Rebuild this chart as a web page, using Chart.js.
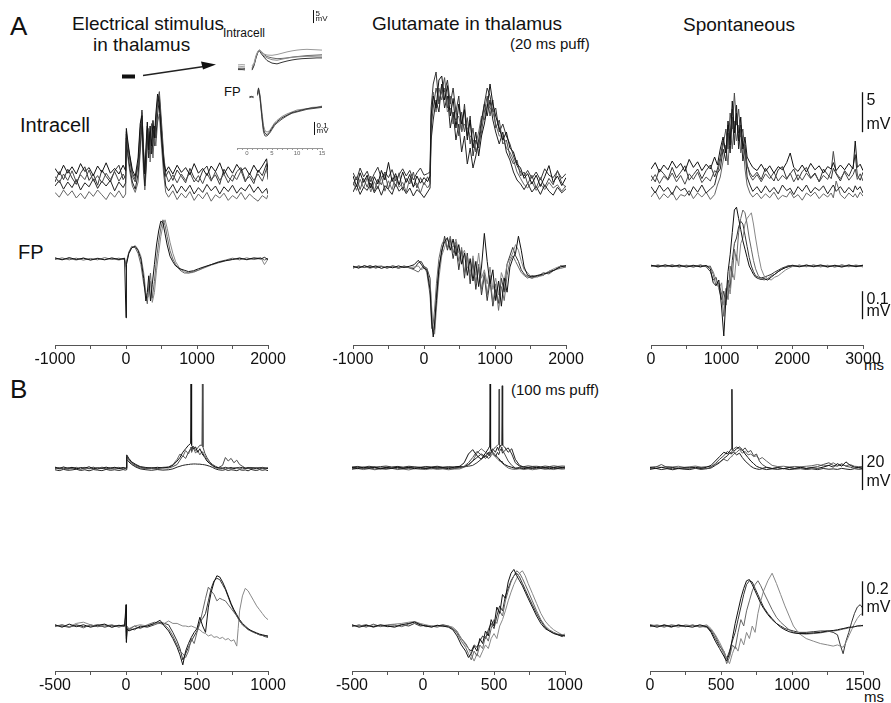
<!DOCTYPE html>
<html><head><meta charset="utf-8">
<script src="https://cdn.jsdelivr.net/npm/chart.js@4.4.1/dist/chart.umd.min.js"></script>
<style>
html,body{margin:0;padding:0;background:#fff;}
#fig{position:relative;width:891px;height:703px;overflow:hidden;background:#fff;font-family:"Liberation Sans",Arial,Helvetica,sans-serif;color:#111;}
#fig canvas{position:absolute;}
.t{position:absolute;white-space:nowrap;line-height:1;}
</style></head><body>
<div id="fig">
  <div class="t" style="left:10px;top:13px;font-size:26px;">A</div>
  <div class="t" style="left:72px;top:14px;font-size:19px;">Electrical stimulus</div>
  <div class="t" style="left:93px;top:35px;font-size:19px;">in thalamus</div>
  <div class="t" style="left:372px;top:14px;font-size:19px;">Glutamate in thalamus</div>
  <div class="t" style="left:510px;top:36px;font-size:15px;">(20 ms puff)</div>
  <div class="t" style="left:683px;top:15px;font-size:19px;">Spontaneous</div>
  <div class="t" style="left:20px;top:115px;font-size:20px;">Intracell</div>
  <div class="t" style="left:18px;top:242px;font-size:20px;">FP</div>
  <div class="t" style="left:10px;top:376px;font-size:26px;">B</div>
  <div class="t" style="left:511px;top:382px;font-size:15px;">(100 ms puff)</div>
  <div class="t" style="left:864px;top:357px;font-size:15px;">ms</div>
  <div class="t" style="left:864px;top:689px;font-size:15px;">ms</div>
  <div class="t" style="left:223px;top:27px;font-size:12px;">Intracell</div>
  <div class="t" style="left:224px;top:85px;font-size:13px;">FP</div>
  <svg style="position:absolute;left:0;top:0;" width="891" height="160">
    <rect x="122" y="74.5" width="13" height="4" fill="#111"/>
    <line x1="143" y1="75.5" x2="204" y2="66.5" stroke="#222" stroke-width="1.6"/>
    <polygon points="216,64.5 201,61.5 203,69.5" fill="#111"/>
  </svg>
  <canvas id="cInset"></canvas>
  <canvas id="cA1"></canvas><canvas id="cA2"></canvas><canvas id="cA3"></canvas>
  <canvas id="cB1"></canvas><canvas id="cB2"></canvas><canvas id="cB3"></canvas>
</div>
<script>
// ================= DATA (time in ms, potentials in mV) =================
// ---- Tick labels / axis ranges ----
const ticksA12 = [-1000, 0, 1000, 2000];
const ticksA3 = [0, 1000, 2000, 3000];
const ticksB12 = [-500, 0, 500, 1000];
const ticksB3 = [0, 500, 1000, 1500];
const ticksInset = [0, 5, 10, 15];
const rangeInset = [-2, 15];

// ---- A, column 1: electrical stimulus in thalamus ----
const tA1 = [-1000,-940,-880,-820,-760,-700,-640,-580,-520,-460,-400,-340,-280,-220,-160,-100,-40,-5,5,20,50,90,130,170,200,225,245,265,285,300,320,340,360,380,400,420,445,470,500,530,560,600,660,720,780,840,900,960,1020,1080,1140,1200,1260,1320,1380,1440,1500,1560,1620,1680,1740,1800,1860,1920,1980,2000];
const A1_in1 = [1.2,0.4,1.6,0.6,1.4,0.5,1.8,0.8,1.3,0.3,1.5,0.7,1.9,0.6,1.2,0.5,1.6,0.9,6.2,5.0,3.0,1.0,0.2,2.5,6.8,7.8,3.0,0.5,4.5,7.0,3.5,6.5,4.0,7.2,5.0,8.0,10.5,9.0,5.0,2.0,0.8,1.4,0.5,1.6,0.7,1.3,0.4,1.8,0.6,1.2,0.3,1.5,0.8,1.9,0.5,1.4,0.6,1.7,0.9,1.3,0.4,1.6,0.7,1.5,2.4,1.0];
const A1_in2 = [0.2,-0.6,0.5,-0.3,0.9,-0.5,0.4,-0.2,1.0,-0.4,0.3,-0.6,0.6,-0.2,0.8,-0.4,0.5,-0.1,5.5,4.2,2.4,0.2,-0.5,1.5,5.0,8.2,4.0,1.0,3.0,6.0,5.0,3.0,6.8,5.2,4.0,6.5,9.5,10.8,7.0,3.0,0.5,-0.5,0.4,-0.6,0.5,-0.3,0.7,-0.5,0.3,-0.7,0.6,-0.4,0.8,-0.3,0.5,-0.6,0.4,-0.2,0.9,-0.5,0.6,-0.3,0.5,-0.4,1.2,0.1];
const A1_in3 = [-1.0,-0.3,-1.4,-0.5,-1.2,-0.2,-1.5,-0.6,-1.1,-0.1,-1.3,-0.4,-1.0,-0.3,-1.6,-0.5,-1.2,-0.6,5.0,3.5,1.5,-0.5,-1.4,0.5,4.0,7.0,2.0,-1.0,2.0,5.5,2.5,5.8,3.0,4.5,6.5,5.0,8.0,9.8,6.0,1.5,-1.0,-1.6,-0.8,-1.9,-1.0,-1.7,-0.9,-2.0,-1.2,-1.8,-0.8,-1.6,-1.0,-2.0,-1.1,-1.7,-0.9,-1.9,-1.2,-1.6,-0.8,-1.8,-1.1,-1.9,-1.3,-2.0];
const A1_in4 = [-1.8,-2.4,-1.5,-2.2,-1.6,-2.5,-1.9,-2.6,-1.7,-2.3,-1.5,-2.1,-2.7,-1.8,-2.4,-1.6,-2.5,-2.0,4.5,3.0,1.0,-1.0,-1.8,-0.5,3.0,6.5,1.0,-1.5,1.0,4.0,6.2,2.0,4.8,2.5,5.5,4.0,7.0,8.0,4.0,0.5,-1.8,-2.4,-1.6,-2.7,-1.9,-2.5,-1.7,-2.8,-2.0,-2.6,-1.8,-2.9,-2.1,-2.5,-1.9,-2.8,-2.2,-2.6,-1.8,-2.7,-2.0,-2.5,-2.9,-2.2,-2.6,-2.1];
const A1_in5 = [-0.5,0.8,-0.2,1.1,0.0,-0.8,0.6,1.4,-0.3,0.5,-0.9,1.0,0.2,-0.5,0.9,1.6,-0.2,0.3,5.8,4.5,2.8,0.6,-0.2,1.8,6.0,8.5,3.5,0.8,3.8,6.5,4.2,5.5,3.5,6.0,4.8,7.0,9.8,10.2,6.0,2.5,0.2,0.9,-0.3,1.0,0.2,-0.6,1.2,0.0,-0.5,0.9,1.5,-0.2,0.4,-0.8,1.1,0.1,-0.4,0.8,1.3,-0.3,0.2,-0.7,1.0,0.3,1.8,-0.2];
const tA1fp = [-1000,-900,-800,-700,-600,-500,-400,-300,-200,-100,-20,0,2,10,40,80,130,170,210,250,280,300,320,345,370,400,430,460,490,520,550,580,620,660,700,760,820,880,950,1020,1100,1200,1300,1400,1500,1600,1700,1800,1900,1950,2000];
const A1_fp1 = [0.004,-0.003,0.005,-0.002,0.003,-0.004,0.002,-0.003,0.004,-0.002,0.003,-0.21,-0.05,-0.02,0.02,0.04,0.045,0.03,0.0,-0.07,-0.15,-0.12,-0.06,-0.15,-0.09,-0.02,0.05,0.10,0.135,0.13,0.09,0.05,0.01,-0.01,-0.025,-0.035,-0.04,-0.045,-0.042,-0.035,-0.028,-0.02,-0.012,-0.006,-0.002,0.003,-0.002,0.004,0.0,0.006,-0.002];
const A1_fp2 = [-0.002,0.004,-0.003,0.003,-0.004,0.002,-0.003,0.005,-0.002,0.003,-0.003,-0.02,-0.03,-0.01,0.025,0.045,0.04,0.02,-0.02,-0.09,-0.13,-0.16,-0.10,-0.05,-0.14,-0.08,0.0,0.06,0.11,0.14,0.12,0.08,0.03,0.0,-0.02,-0.04,-0.05,-0.05,-0.045,-0.04,-0.03,-0.02,-0.01,-0.004,0.003,-0.003,0.004,-0.002,0.003,-0.004,0.002];
const A1_fp3 = [0.003,-0.002,0.002,-0.004,0.004,-0.003,0.003,-0.002,0.002,-0.004,0.002,-0.03,-0.04,-0.015,0.02,0.04,0.048,0.035,0.01,-0.05,-0.12,-0.14,-0.13,-0.08,-0.155,-0.12,-0.04,0.02,0.08,0.12,0.14,0.11,0.06,0.02,-0.01,-0.035,-0.045,-0.05,-0.048,-0.04,-0.032,-0.022,-0.014,-0.007,-0.001,0.004,-0.003,0.002,0.005,-0.02,0.0];

// ---- A, column 2: glutamate in thalamus (20 ms puff) ----
const tA2 = [-1000,-950,-900,-850,-800,-750,-700,-650,-600,-550,-500,-450,-400,-350,-300,-250,-200,-150,-100,-50,0,50,85,100,130,170,210,250,290,330,370,410,450,490,530,570,610,650,690,730,770,810,850,890,930,970,1010,1060,1110,1160,1210,1260,1310,1360,1410,1460,1520,1580,1640,1700,1760,1820,1880,1940,2000];
const A2_in1 = [0.5,-0.8,0.9,-0.3,0.6,-1.0,0.4,-0.5,1.2,0.0,2.2,-0.2,0.8,-0.6,1.0,-0.3,0.7,-0.9,0.5,-0.4,0.3,-0.2,0.5,8.0,10.5,9.0,12.5,13.0,10.0,11.8,8.0,10.2,6.5,9.5,7.0,8.8,5.0,7.5,4.0,6.0,3.0,5.5,7.0,9.0,12.0,9.5,8.0,6.5,5.0,6.0,4.0,3.5,2.0,1.5,0.2,0.8,-0.5,0.6,-0.8,0.4,1.8,-0.3,0.5,-0.7,0.3];
const A2_in2 = [-0.7,0.4,-1.2,0.2,-0.9,0.5,-1.4,0.1,-0.6,0.8,-1.1,0.3,-0.8,0.9,-1.3,0.2,-0.5,1.0,-1.0,0.3,-0.6,0.4,-0.3,6.5,9.0,11.5,10.0,11.0,12.8,9.0,10.5,7.0,9.0,5.5,8.5,6.0,7.8,4.5,6.5,3.5,4.5,6.0,8.5,10.5,8.0,10.0,6.5,7.5,4.5,5.0,3.0,2.0,2.5,0.5,1.0,-0.5,0.6,-1.0,0.3,-0.9,0.2,-0.6,1.2,-0.4,-0.9];
const A2_in3 = [-1.5,-0.6,-1.8,-0.9,-1.3,-0.4,-1.6,-0.8,-1.9,-0.7,-1.2,-1.8,-0.5,-1.4,-0.9,-1.7,-1.0,-2.0,-1.2,-1.6,-2.2,-1.5,-1.0,5.0,7.5,10.0,8.5,12.0,9.0,10.5,6.5,8.5,5.0,7.0,3.5,5.5,2.0,4.0,1.5,3.0,5.0,7.5,9.5,8.0,10.0,7.5,6.0,4.5,6.0,3.5,2.5,1.0,0.0,-0.5,-1.2,-0.4,-1.5,-0.8,-1.8,-0.6,-1.4,-1.9,-0.9,-1.6,-1.1];
const A2_in4 = [-0.2,-1.3,0.1,-1.0,0.3,-1.5,-0.2,-1.1,0.4,-1.4,-0.1,-1.2,0.5,-0.9,-0.3,-1.5,0.2,-0.8,-0.4,-1.6,-0.3,-1.0,-0.5,7.0,11.0,8.5,11.5,10.0,11.5,8.5,9.0,8.0,7.5,8.0,6.0,7.0,6.5,5.5,5.0,4.5,6.0,8.0,7.5,9.5,9.0,8.5,7.0,5.5,5.5,4.0,3.5,2.5,1.0,0.2,-0.6,-1.0,-0.2,-1.3,-0.5,-1.2,-0.3,-1.0,-0.6,-1.4,-0.7];
const A2_in5 = [0.9,0.0,1.5,0.4,1.1,-0.2,0.8,1.6,0.2,1.0,0.3,1.3,-0.1,0.7,1.4,0.5,1.2,0.0,0.9,1.5,0.6,0.8,1.0,9.0,12.0,13.5,9.5,12.0,11.0,12.5,9.5,11.5,8.5,10.5,6.0,9.5,5.5,8.0,3.0,5.0,4.0,7.0,9.5,11.5,10.5,8.5,9.0,6.0,7.0,5.5,4.5,3.0,1.8,1.0,0.5,1.2,0.2,1.0,0.0,1.4,0.6,0.3,1.1,0.2,0.8];
const tA2fp = [-1000,-920,-840,-760,-680,-600,-520,-440,-360,-280,-200,-140,-80,-40,0,40,85,110,130,150,175,210,250,290,330,370,410,450,490,530,570,610,650,690,730,770,810,850,890,930,970,1010,1050,1090,1130,1170,1210,1250,1290,1330,1370,1410,1460,1520,1600,1680,1760,1840,1920,2000];
const A2_fp1 = [0.003,-0.004,0.005,-0.002,0.004,-0.005,0.002,-0.003,0.004,-0.002,0.003,0.008,0.024,0.01,-0.005,-0.01,-0.08,-0.2,-0.25,-0.2,-0.12,-0.01,0.06,0.09,0.105,0.06,0.1,0.04,0.08,0.01,0.05,-0.03,0.03,-0.05,0.02,-0.07,0.0,0.12,0.02,-0.06,-0.01,-0.12,-0.05,-0.14,-0.04,-0.09,0.0,0.03,0.05,0.11,0.06,0.0,-0.03,-0.035,-0.03,-0.025,-0.02,-0.01,0.0,0.005];
const A2_fp2 = [-0.003,0.004,-0.002,0.003,-0.004,0.002,-0.003,0.005,-0.002,0.003,-0.004,-0.01,-0.018,-0.005,0.004,-0.02,-0.1,-0.22,-0.2,-0.15,-0.06,0.03,0.08,0.1,0.07,0.11,0.05,0.09,0.02,0.07,-0.02,0.04,-0.04,0.03,-0.06,0.01,-0.08,-0.02,-0.1,-0.03,-0.13,-0.06,-0.155,-0.07,-0.12,-0.03,0.02,0.04,0.02,0.0,-0.02,-0.03,-0.04,-0.03,-0.035,-0.02,-0.025,-0.01,-0.005,0.0];
const A2_fp3 = [0.001,-0.003,0.003,-0.005,0.002,0.004,-0.004,0.002,-0.003,0.004,-0.002,0.0,0.004,-0.01,-0.004,-0.005,-0.06,-0.15,-0.22,-0.24,-0.15,-0.04,0.04,0.07,0.1,0.08,0.07,0.1,0.05,0.04,0.06,0.0,-0.02,0.04,-0.03,0.05,-0.04,-0.01,-0.06,0.0,-0.08,-0.04,-0.1,-0.02,-0.05,0.01,0.03,0.05,0.08,0.06,0.02,-0.01,-0.02,-0.04,-0.035,-0.03,-0.015,-0.005,0.003,0.002];
const A2_fp4 = [-0.004,0.003,-0.002,0.005,-0.003,0.002,-0.004,0.003,-0.005,0.002,-0.003,-0.006,0.015,0.02,0.002,-0.004,-0.04,-0.18,-0.23,-0.22,-0.1,0.0,0.05,0.11,0.06,0.1,0.03,0.08,-0.01,0.06,-0.04,0.05,-0.06,0.02,-0.08,0.0,-0.1,-0.03,-0.12,-0.05,-0.14,-0.08,-0.13,-0.04,-0.09,0.01,0.04,0.07,0.04,0.02,-0.01,-0.025,-0.035,-0.04,-0.03,-0.03,-0.015,-0.012,0.004,0.003];

// ---- A, column 3: spontaneous ----
const tA3 = [0,60,120,180,240,300,360,420,480,540,600,660,720,780,840,900,940,980,1020,1060,1090,1120,1150,1180,1210,1240,1270,1300,1330,1360,1400,1440,1500,1560,1620,1680,1740,1800,1860,1920,1970,2020,2080,2140,2200,2260,2320,2380,2440,2500,2550,2580,2620,2680,2740,2800,2860,2890,2920,2960,3000];
const A3_in1 = [1.0,1.8,0.6,1.5,0.9,2.0,1.1,1.7,0.7,2.2,1.2,1.9,0.8,1.6,1.0,2.5,1.5,3.5,5.0,3.0,7.0,4.0,9.5,5.5,8.0,4.5,7.5,3.5,5.0,2.5,1.8,1.2,0.8,1.6,0.7,1.4,0.5,1.3,0.9,1.8,3.0,1.2,0.7,1.5,0.6,1.7,0.9,1.4,0.5,1.3,1.0,1.8,0.8,1.5,0.9,1.7,1.0,4.5,1.2,1.6,0.8];
const A3_in2 = [-0.5,0.3,-0.8,0.1,-0.4,0.5,-0.6,0.2,-0.9,0.4,-0.3,0.6,-0.7,0.0,-0.5,0.8,0.5,2.0,4.0,6.0,3.5,8.0,6.0,10.5,6.5,8.5,5.0,6.0,3.0,1.5,0.2,-0.4,0.3,-0.6,0.4,-0.2,0.6,-0.5,0.2,-0.3,0.5,-0.6,0.3,-0.4,0.5,-0.2,0.4,-0.6,0.2,-0.3,0.8,3.2,0.5,-0.2,0.6,-0.4,0.3,1.0,-0.3,0.4,-0.5];
const A3_in3 = [-1.2,-2.0,-1.0,-1.8,-1.3,-2.2,-1.1,-1.7,-1.4,-2.3,-1.2,-1.9,-1.0,-2.0,-1.5,-1.0,0.5,1.0,3.5,2.0,5.5,3.0,7.5,4.0,9.0,3.5,6.0,2.0,3.5,0.0,-1.0,-1.8,-1.2,-2.0,-1.1,-1.9,-1.3,-2.1,-1.0,-1.7,-1.4,-2.2,-1.2,-1.8,-1.0,-2.0,-1.3,-1.7,-1.1,-2.1,-1.4,-1.0,-1.8,-1.2,-2.0,-1.3,-1.9,-1.1,-1.6,-1.2,-2.0];
const A3_in4 = [-2.5,-1.8,-2.8,-2.1,-2.6,-1.9,-2.9,-2.2,-2.4,-1.7,-2.7,-2.0,-2.5,-1.9,-2.8,-2.2,-1.0,0.0,2.0,4.0,1.5,6.0,3.5,7.0,4.5,6.5,3.0,4.5,1.0,-1.0,-2.0,-2.5,-2.0,-2.7,-2.1,-2.6,-1.9,-2.8,-2.3,-2.5,-1.8,-2.6,-2.2,-2.9,-2.0,-2.4,-1.9,-2.7,-2.1,-2.5,-2.0,-2.6,-0.5,-2.2,-2.7,-2.0,-2.5,-2.1,-2.6,-1.9,-2.4];
const A3_in5 = [0.2,-0.6,1.0,0.4,-0.3,1.2,-0.1,0.6,1.4,-0.4,0.3,1.0,-0.2,0.8,1.5,0.0,1.0,2.5,4.5,3.0,6.5,5.0,8.5,6.0,7.0,5.5,6.5,4.0,4.0,1.5,0.5,0.0,0.6,-0.3,1.1,0.2,-0.5,0.9,1.3,-0.2,0.4,1.0,-0.4,0.7,1.2,-0.1,0.5,-0.6,1.0,0.3,-0.2,1.1,0.4,-0.5,0.8,0.1,1.3,2.8,0.2,-0.4,0.6];
const tA3fp = [0,100,200,300,400,500,600,700,780,840,880,920,960,1000,1030,1060,1090,1120,1150,1180,1210,1240,1270,1300,1330,1360,1390,1420,1450,1480,1520,1560,1600,1650,1700,1750,1800,1850,1900,1950,2000,2100,2200,2300,2400,2500,2600,2700,2800,2900,3000];
const A3_fp1 = [0.003,-0.003,0.004,-0.002,0.003,-0.004,0.002,-0.003,0.002,-0.01,-0.06,-0.07,-0.05,-0.15,-0.25,-0.12,-0.02,0.04,0.12,0.2,0.21,0.17,0.13,0.09,0.06,0.03,0.0,-0.015,-0.03,-0.04,-0.045,-0.048,-0.045,-0.05,-0.04,-0.03,-0.02,-0.012,-0.006,-0.002,0.002,-0.003,0.003,-0.002,0.004,-0.003,0.002,-0.004,0.003,-0.002,0.003];
const A3_fp2 = [-0.002,0.004,-0.003,0.002,-0.004,0.003,-0.002,0.004,-0.003,0.0,-0.03,-0.07,-0.06,-0.1,-0.18,-0.08,-0.12,0.0,-0.04,0.06,0.02,0.12,0.17,0.2,0.19,0.15,0.1,0.06,0.02,-0.01,-0.035,-0.045,-0.05,-0.045,-0.035,-0.03,-0.02,-0.012,-0.006,-0.001,0.003,-0.002,0.004,-0.003,0.002,-0.004,0.003,-0.002,0.004,-0.003,0.002];
const A3_fp3 = [0.002,-0.004,0.003,-0.003,0.004,-0.002,0.003,-0.004,0.002,-0.004,-0.02,-0.05,-0.08,-0.06,-0.14,-0.1,-0.06,-0.1,-0.02,-0.05,0.04,0.0,0.08,0.1,0.15,0.17,0.18,0.19,0.15,0.1,0.04,-0.01,-0.035,-0.045,-0.05,-0.04,-0.035,-0.025,-0.015,-0.008,-0.002,0.003,-0.003,0.004,-0.002,0.003,-0.004,0.002,-0.003,0.004,-0.002];
const A3_fp4 = [0.0,0.002,-0.002,0.004,-0.003,0.002,-0.004,0.003,-0.002,-0.02,-0.05,-0.04,-0.08,-0.12,-0.09,-0.14,-0.05,-0.08,0.02,0.08,0.1,0.14,0.16,0.15,0.11,0.07,0.03,0.0,-0.02,-0.035,-0.04,-0.042,-0.04,-0.035,-0.03,-0.022,-0.015,-0.008,-0.003,0.002,-0.002,0.003,-0.002,0.003,-0.003,0.002,-0.003,0.004,-0.002,0.002,-0.003];

// ---- B, column 1: electrical stimulus ----
const tB1 = [-500,-470,-440,-410,-380,-350,-320,-290,-260,-230,-200,-170,-140,-110,-80,-50,-20,-5,0,5,20,40,70,100,140,180,220,260,300,330,360,380,400,420,440,455,458,462,475,490,505,520,535,538,542,555,570,590,610,630,650,680,700,720,740,760,780,800,820,840,860,880,900,920,940,960,980,1000];
const B1_in1 = [0.5,-0.3,0.6,-0.2,0.4,-0.5,0.3,-0.1,0.7,-0.4,0.2,-0.3,0.5,-0.2,0.4,-0.4,0.3,0.0,0.2,7.5,5.5,3.5,2.0,0.8,0.3,-0.2,0.4,0.0,0.5,1.5,4.0,6.0,9.0,11.0,13.0,14.0,48.0,13.0,11.0,12.0,9.0,11.0,8.5,8.0,7.5,6.0,4.0,2.5,1.5,0.5,0.2,-0.3,0.4,-0.2,0.3,-0.4,0.2,-0.1,0.4,-0.3,0.3,-0.2,0.2,-0.4,0.3,-0.2,0.1,-0.3];
const B1_in2 = [-0.4,0.3,-0.5,0.2,-0.3,0.4,-0.6,0.1,-0.3,0.5,-0.4,0.2,-0.6,0.3,-0.2,0.4,-0.5,-0.2,-0.6,6.5,5.0,3.0,1.5,0.5,-0.2,0.3,-0.4,0.2,0.0,0.8,2.0,4.5,7.0,5.5,9.0,11.0,12.0,10.0,12.5,10.0,11.5,13.0,13.0,48.0,12.0,8.5,6.0,3.5,2.0,1.0,0.2,1.5,6.0,4.0,5.5,3.0,4.5,2.0,1.0,0.0,-0.4,0.3,-0.5,0.2,-0.3,0.4,-0.2,0.1];
const B1_in3 = [-1.0,-1.5,-0.8,-1.3,-1.1,-0.7,-1.4,-1.0,-1.6,-0.9,-1.2,-1.5,-0.8,-1.3,-1.0,-1.4,-0.9,-1.2,-1.0,5.0,3.5,2.0,0.5,-0.5,-1.0,-1.3,-0.9,-1.2,-1.0,-0.5,0.5,1.0,1.5,1.8,2.0,2.2,2.2,2.2,2.3,2.3,2.2,2.2,2.0,2.0,2.0,1.8,1.5,1.0,0.3,-0.5,-1.0,-1.3,-0.9,-1.4,-1.0,-1.2,-1.5,-0.9,-1.3,-1.1,-1.6,-0.8,-1.2,-1.4,-0.9,-1.3,-1.0,-1.5];
const B1_in4 = [0.2,-0.6,0.0,-0.8,0.3,-0.2,-0.7,0.4,-0.5,0.1,-0.7,0.5,-0.1,-0.6,0.2,-0.3,0.1,-0.4,0.0,6.0,4.5,2.5,1.0,0.0,-0.4,0.2,-0.3,0.4,0.6,2.0,5.0,8.0,6.5,10.0,8.0,11.0,10.5,9.0,11.5,8.5,10.0,7.5,9.5,9.0,8.5,7.0,5.0,3.0,1.0,0.2,-0.3,0.3,-0.5,0.2,-0.4,0.3,-0.2,0.4,-0.5,0.1,-0.3,0.4,-0.2,0.3,-0.6,0.2,-0.4,0.0];
const tB1fp = [-500,-450,-400,-350,-300,-250,-200,-150,-100,-50,-10,0,3,8,20,60,100,150,200,240,270,300,330,360,380,400,420,440,460,480,500,520,540,560,580,600,620,640,660,680,700,720,740,760,780,790,800,820,840,860,880,900,920,940,960,980,1000];
const B1_fp1 = [0.007,-0.007,0.011,-0.004,0.007,-0.007,0.004,0.011,-0.007,0.004,0,0.124,-0.095,-0.015,-0.029,-0.015,-0.007,0,0.015,0.033,0,-0.029,-0.073,-0.124,-0.168,-0.226,-0.146,-0.102,-0.066,-0.037,-0.015,0.051,0,-0.037,0.11,0.197,0.256,0.292,0.285,0.256,0.219,0.175,0.131,0.095,0.066,0.051,0.037,0.015,0,-0.015,-0.026,-0.033,-0.04,-0.047,-0.051,-0.055,-0.058];
const B1_fp2 = [-0.004,0.007,-0.007,0.004,-0.011,0.007,-0.004,0,0.007,-0.007,0.004,0.015,-0.037,-0.007,-0.022,0,-0.015,0.007,0.022,0.015,0.007,-0.015,-0.058,-0.11,-0.146,-0.161,-0.183,-0.146,-0.073,-0.102,-0.037,0.015,0.088,0.161,0.226,0.204,0.183,0.146,0.161,0.153,0.146,0.124,0.102,0.08,0.058,0.044,0.029,0.007,-0.007,-0.022,-0.029,-0.037,-0.044,-0.051,-0.055,-0.058,-0.062];
const B1_fp3 = [0,0.007,-0.004,0.015,0.022,0.007,-0.004,0.007,-0.007,0.004,-0.004,0.037,-0.058,0,-0.015,0,0.007,0,0.011,0.015,0.015,0.029,0.015,0.015,0.007,0,0,-0.004,0,-0.007,-0.015,-0.022,-0.037,-0.044,-0.058,-0.051,-0.066,-0.062,-0.073,-0.066,-0.08,-0.073,-0.088,-0.08,-0.117,-0.015,0.088,0.175,0.219,0.204,0.175,0.146,0.117,0.095,0.073,0.051,0.037];
const B1_fp4 = [0.004,0,-0.007,0.007,-0.004,0,0.007,-0.007,0.004,0,0.007,0.073,-0.073,-0.022,-0.015,-0.022,0,-0.007,0.007,0.022,0.015,0.007,-0.037,-0.088,-0.131,-0.197,-0.161,-0.124,-0.088,-0.058,-0.029,0.022,0.044,0.073,0.146,0.219,0.263,0.277,0.27,0.241,0.212,0.168,0.124,0.088,0.058,0.044,0.029,0.007,-0.007,-0.018,-0.029,-0.037,-0.044,-0.051,-0.055,-0.062,-0.066];

// ---- B, column 2: glutamate in thalamus (100 ms puff) ----
const tB2 = [-500,-460,-420,-380,-340,-300,-260,-220,-180,-140,-100,-60,-20,20,60,100,140,180,220,260,290,320,350,380,410,440,460,470,473,476,490,510,525,533,536,539,550,555,558,561,575,600,625,650,680,710,740,770,800,830,860,890,920,950,980,1000];
const B2_in1 = [0.3,-0.4,0.5,-0.2,0.4,-0.5,0.2,-0.3,0.6,-0.1,0.3,-0.4,0.2,-0.3,0.4,-0.2,0.3,-0.4,0.5,1.0,3.0,8.0,10.5,7.0,5.0,8.5,11.0,12.5,48.0,11.0,9.0,7.5,6.0,5.5,5.0,4.5,4.0,3.5,3.2,3.0,2.0,1.0,0.4,-0.2,0.3,-0.4,0.2,-0.3,0.4,-0.2,0.3,-0.5,0.2,-0.3,0.4,-0.1];
const B2_in2 = [-0.5,0.2,-0.3,0.4,-0.6,0.1,-0.4,0.3,-0.5,0.2,-0.3,0.5,-0.4,0.1,-0.5,0.3,-0.2,0.4,-0.3,0.2,1.0,3.0,6.0,9.5,7.5,5.5,7.0,9.0,8.5,8.0,10.0,12.0,13.0,13.5,45.0,13.0,12.0,11.0,10.5,10.0,8.0,4.0,1.5,0.0,-0.4,0.3,-0.3,0.2,-0.5,0.3,-0.2,0.4,-0.4,0.1,-0.3,0.3];
const B2_in3 = [0.0,0.5,-0.2,0.1,0.6,-0.3,0.4,0.0,0.3,-0.4,0.5,0.1,0.4,-0.2,0.3,0.6,-0.1,0.2,0.0,0.4,0.8,2.0,4.0,6.0,8.0,6.5,9.0,7.0,8.0,8.5,11.0,9.0,12.0,10.0,11.5,12.5,13.0,13.5,47.0,13.0,12.0,9.0,11.0,5.0,1.5,0.5,0.2,0.6,0.1,0.4,0.0,0.5,0.2,0.6,0.1,0.4];
const B2_in4 = [-0.8,-0.3,-0.9,-0.4,-1.0,-0.5,-0.8,-0.2,-0.9,-0.6,-1.1,-0.4,-0.7,-0.9,-0.3,-0.8,-0.5,-1.0,-0.6,-0.5,0.5,1.5,4.0,8.5,11.0,9.0,7.5,9.5,10.0,10.5,8.5,6.5,5.0,4.5,4.2,4.0,3.5,3.0,2.8,2.5,1.5,0.0,-0.6,-0.8,-0.4,-0.9,-0.5,-1.0,-0.6,-0.3,-0.8,-0.5,-0.9,-0.4,-0.7,-0.5];
const B2_in5 = [0.6,0.9,0.4,1.0,0.5,0.8,1.1,0.6,0.9,0.5,1.0,0.7,0.4,0.9,0.6,1.0,0.5,0.8,0.6,0.9,0.7,1.0,1.5,3.0,5.0,7.0,5.5,6.0,6.5,7.0,8.0,6.5,9.0,7.5,8.5,9.5,11.0,10.0,9.0,8.5,10.0,11.5,8.0,3.0,1.0,0.8,1.2,0.9,1.0,0.7,1.1,0.8,1.2,0.9,1.1,1.0];
const tB2fp = [-500,-450,-400,-350,-300,-250,-200,-150,-100,-60,-20,20,60,100,140,180,210,240,270,300,320,340,360,380,400,420,440,460,480,500,520,540,560,580,600,620,640,660,680,700,720,740,770,800,830,860,890,920,950,980,1000];
const B2_fp1 = [0.007,-0.007,0.004,-0.004,0.007,0,-0.007,0.007,0.015,0.022,0.007,0,-0.007,0.004,0,-0.007,-0.022,-0.058,-0.11,-0.146,-0.183,-0.161,-0.117,-0.146,-0.073,-0.102,-0.029,-0.058,0.037,0,0.11,0.073,0.183,0.161,0.256,0.307,0.329,0.292,0.263,0.234,0.197,0.161,0.11,0.058,0.015,-0.015,-0.029,-0.044,-0.051,-0.055,-0.058];
const B2_fp2 = [-0.004,0.007,-0.007,0.011,-0.004,0.004,0.007,-0.004,0.011,0.026,0.011,-0.004,0,-0.007,0.004,-0.004,-0.015,-0.044,-0.088,-0.124,-0.161,-0.197,-0.146,-0.175,-0.11,-0.131,-0.058,-0.088,-0.015,0.037,0.015,0.088,0.058,0.146,0.204,0.256,0.292,0.321,0.307,0.277,0.241,0.204,0.146,0.088,0.037,0,-0.022,-0.037,-0.047,-0.051,-0.058];
const B2_fp3 = [0,0.004,-0.004,0.007,0,0.007,0.011,0.015,0.022,0.026,0.015,0.007,0,0.004,-0.004,0,-0.007,-0.029,-0.073,-0.11,-0.131,-0.168,-0.204,-0.161,-0.183,-0.146,-0.11,-0.131,-0.073,-0.044,-0.073,0,0.037,0.088,0.146,0.197,0.241,0.277,0.307,0.321,0.292,0.248,0.19,0.131,0.073,0.029,0,-0.022,-0.037,-0.051,-0.047];
const B2_fp4 = [0.004,0,0.007,-0.007,0.004,-0.004,0,0.007,0,0.015,0,0.004,-0.004,0,0.007,0,-0.015,-0.037,-0.073,-0.102,-0.131,-0.146,-0.11,-0.124,-0.088,-0.058,-0.073,-0.022,0.015,-0.015,0.058,0.117,0.088,0.175,0.219,0.263,0.292,0.307,0.285,0.248,0.212,0.175,0.124,0.073,0.029,-0.007,-0.029,-0.04,-0.051,-0.062,-0.051];

// ---- B, column 3: spontaneous ----
const tB3 = [0,40,80,120,160,200,240,280,320,360,400,430,460,490,520,545,565,574,577,580,590,610,630,650,670,690,710,730,750,770,790,820,860,900,940,980,1020,1060,1100,1140,1180,1220,1260,1290,1320,1350,1380,1410,1440,1470,1500];
const B3_in1 = [0.3,-0.3,0.4,-0.2,0.3,-0.4,0.2,-0.1,0.4,-0.3,0.5,1.5,4.0,6.5,9.0,8.0,10.0,11.0,45.0,10.5,9.5,11.0,12.0,10.5,8.0,6.0,4.0,2.5,1.0,0.3,-0.2,0.3,-0.3,0.2,-0.4,0.3,-0.2,0.4,-0.3,0.2,-0.2,0.5,1.5,0.5,2.5,1.0,3.5,1.5,0.5,0.2,-0.2];
const B3_in2 = [-0.4,0.5,2.0,0.3,-0.5,0.2,-0.3,0.4,-0.2,0.3,-0.4,0.5,2.5,5.0,7.0,9.5,8.0,9.0,9.5,10.0,11.0,12.0,11.0,10.0,11.5,9.0,10.0,7.0,8.0,4.0,2.0,0.5,-0.3,0.3,-0.4,0.2,-0.3,0.4,-0.2,0.3,0.8,2.0,3.0,1.5,1.0,2.5,1.0,0.5,-0.2,0.3,-0.1];
const B3_in3 = [-0.8,-0.2,-0.9,-0.4,-1.0,-0.3,-0.7,-0.9,-0.2,-0.8,-0.4,0.0,1.5,3.0,5.5,7.0,9.0,8.0,8.5,8.8,9.0,7.5,8.5,6.0,4.0,2.5,1.0,0.0,-0.5,-0.8,-0.4,-0.9,-0.5,-0.8,-0.3,-0.9,-0.6,-0.4,-0.8,-0.5,-0.9,-0.3,-0.7,-0.5,-0.8,-0.2,-0.6,-0.9,-0.4,-0.7,-0.5];
const B3_in4 = [0.5,0.8,0.3,0.9,0.6,1.0,0.4,0.7,1.1,0.5,0.8,1.0,2.0,3.5,5.0,4.0,6.0,6.5,7.0,7.0,8.0,9.0,10.5,8.5,9.5,7.5,8.0,6.5,7.0,5.0,6.0,4.0,1.5,0.8,1.0,0.6,0.9,0.7,1.0,1.3,2.0,1.2,1.5,3.0,1.5,1.8,1.2,2.0,1.0,0.8,0.9];
const tB3fp = [0,50,100,150,200,250,300,350,400,430,460,490,520,540,560,580,600,620,640,660,680,700,720,740,760,780,800,830,860,890,920,950,980,1010,1050,1100,1150,1200,1250,1290,1320,1340,1360,1380,1400,1420,1440,1460,1480,1500];
const B3_fp1 = [0.004,-0.007,0.007,-0.004,0.004,0,-0.007,0.007,-0.004,-0.037,-0.088,-0.131,-0.175,-0.204,-0.161,-0.073,0.015,0.088,0.161,0.219,0.263,0.27,0.241,0.204,0.168,0.131,0.102,0.066,0.037,0.015,-0.007,-0.022,-0.033,-0.04,-0.044,-0.044,-0.04,-0.037,-0.029,-0.026,-0.022,-0.018,-0.015,-0.011,-0.007,-0.007,-0.004,0,0,0.004];
const B3_fp2 = [-0.004,0.004,-0.007,0.007,0,-0.004,0.007,-0.007,0,-0.022,-0.058,-0.11,-0.161,-0.219,-0.183,-0.11,-0.131,-0.037,0.037,0,0.088,0.146,0.204,0.241,0.263,0.234,0.197,0.146,0.095,0.051,0.022,0,-0.022,-0.037,-0.044,-0.047,-0.044,-0.04,-0.033,-0.029,-0.026,-0.022,-0.018,-0.015,-0.011,-0.007,-0.004,0,0.004,0];
const B3_fp3 = [0,0.007,-0.004,0.004,-0.007,0.007,0,-0.004,0.007,-0.015,-0.051,-0.095,-0.146,-0.19,-0.219,-0.161,-0.117,-0.146,-0.073,-0.11,-0.037,-0.073,0,-0.037,0.073,0.146,0.204,0.263,0.307,0.248,0.183,0.117,0.058,0,-0.044,-0.073,-0.088,-0.102,-0.11,-0.117,-0.11,-0.117,-0.124,-0.095,-0.058,-0.022,0.015,0.044,0.066,0.073];
const B3_fp4 = [0.007,0,0.004,-0.007,0.007,-0.004,0.004,0,-0.007,-0.029,-0.073,-0.117,-0.146,-0.19,-0.146,-0.088,-0.037,0.037,0.11,0.183,0.241,0.263,0.256,0.219,0.183,0.146,0.11,0.073,0.044,0.015,0,-0.015,-0.022,-0.029,-0.037,-0.037,-0.033,-0.029,-0.029,-0.037,-0.051,-0.11,-0.161,-0.088,-0.037,0.022,0.073,0.11,0.124,0.102];

// ---- Inset (first 15 ms after electrical stimulus) ----
const tInsetIn = [-1.8,-1.0,-0.4,0,1.0,1.4,1.8,2.2,2.5,2.9,3.4,4.0,5.0,6.0,7.0,8.0,9.0,10.0,11.0,12.0,13.0,14.0,15.0];
const Inset_in1 = [0.8,0.9,0.8,null,0.4,1.5,4.5,6.2,6.6,6.0,5.0,4.6,4.5,4.8,5.3,5.8,6.2,6.5,6.7,6.8,6.7,6.6,6.5];
const Inset_in2 = [0.0,0.1,0.0,null,-0.2,1.0,4.0,6.0,6.5,5.5,4.2,3.5,2.8,2.6,3.0,3.4,3.7,3.9,4.0,4.1,4.1,4.2,4.2];
const Inset_in3 = [-1.0,-1.0,-1.1,null,-1.2,0.5,3.5,5.8,6.2,5.0,3.8,2.5,1.5,1.2,1.8,2.3,2.7,3.0,3.2,3.3,3.4,3.5,3.5];
const Inset_in4 = [-0.6,-0.5,-0.6,null,-0.8,0.8,3.8,5.9,6.4,5.8,4.8,4.0,3.5,3.2,3.3,3.5,3.8,4.0,4.2,4.4,4.5,4.6,4.7];
const tInsetFp = [0.5,0.9,1.3,1.8,2.1,2.3,2.6,3.0,3.3,3.6,4.0,4.5,5.0,5.5,6.0,7.0,8.0,9.0,10.0,11.0,12.0,13.0,14.0,15.0];
const Inset_fp1 = [0.0,0.005,-0.005,null,0.02,0.07,0.0,-0.15,-0.25,-0.28,-0.29,-0.27,-0.24,-0.21,-0.19,-0.16,-0.14,-0.12,-0.11,-0.1,-0.09,-0.085,-0.08,-0.075];
const Inset_fp2 = [0.005,0.0,0.0,null,0.01,0.06,0.02,-0.12,-0.22,-0.26,-0.27,-0.26,-0.23,-0.2,-0.18,-0.15,-0.13,-0.115,-0.1,-0.095,-0.09,-0.08,-0.078,-0.07];
const Inset_fp3 = [-0.005,0.0,0.005,null,0.015,0.065,-0.01,-0.17,-0.27,-0.3,-0.3,-0.28,-0.25,-0.22,-0.2,-0.17,-0.145,-0.125,-0.115,-0.105,-0.095,-0.09,-0.085,-0.08];

// ================= RENDERING =================
const FONT = '"Liberation Sans", Arial, Helvetica, sans-serif';

function pts(t, v) {
  const n = Math.min(t.length, v.length), out = [];
  for (let i = 0; i < n; i++) out.push({ x: t[i], y: v[i] });
  return out;
}
function yRange(base, ppu, top, bottom) {
  const max = (base - top) / ppu;
  return { min: max - (bottom - top) / ppu, max: max };
}
function barsPlugin(bars, key) {
  return {
    id: 'bars' + key,
    afterDraw(chart) {
      const ctx = chart.ctx; ctx.save();
      bars.forEach(b => {
        const sc = chart.scales[b.axis];
        const yT = sc.getPixelForValue(b.to), yB = sc.getPixelForValue(b.from);
        const x = Math.round(chart.chartArea.right + b.dx) + 0.5;
        ctx.strokeStyle = '#111'; ctx.lineWidth = b.lw;
        ctx.beginPath(); ctx.moveTo(x, yT); ctx.lineTo(x, yB); ctx.stroke();
        ctx.fillStyle = '#111'; ctx.font = b.size + 'px ' + FONT; ctx.textAlign = 'left';
        ctx.textBaseline = 'top'; ctx.fillText(b.upper, x + b.gap, yT);
        ctx.textBaseline = 'bottom'; ctx.fillText(b.lower, x + b.gap, yB);
      });
      ctx.restore();
    }
  };
}

function makeChart(P) {
  const cv = document.getElementById(P.canvas);
  const padL = 40, padR = 40;
  cv.width = (P.box.r - P.box.l) + padL + padR;
  cv.height = (P.box.b - P.box.t) + P.padT + P.axisH;
  cv.style.left = (P.box.l - padL) + 'px';
  cv.style.top = (P.box.t - P.padT) + 'px';
  const datasets = [];
  P.intr.forEach((v, i) => datasets.push({ data: pts(P.t, v), yAxisID: 'yi', borderColor: P.inColors[i % P.inColors.length], borderWidth: P.lw, pointRadius: 0, tension: 0, spanGaps: false }));
  P.fp.forEach((v, i) => datasets.push({ data: pts(P.tf, v), yAxisID: 'yf', borderColor: P.fpColors[i % P.fpColors.length], borderWidth: P.lw, pointRadius: 0, tension: 0, spanGaps: false }));
  const ri = yRange(P.inBase, P.inPPU, P.box.t, P.box.b);
  const rf = yRange(P.fpBase, P.fpPPU, P.box.t, P.box.b);
  return new Chart(cv, {
    type: 'line',
    data: { datasets },
    options: {
      responsive: false, animation: false, events: [],
      layout: { padding: { left: padL, right: padR, top: P.padT, bottom: 0 } },
      plugins: { legend: { display: false }, tooltip: { enabled: false } },
      scales: {
        x: {
          type: 'linear', position: 'bottom', min: P.range[0], max: P.range[1],
          border: { display: true, color: P.axisColor, width: 1 },
          grid: { display: true, drawOnChartArea: false, drawTicks: true, tickLength: P.tickLen, color: P.axisColor, lineWidth: 1 },
          ticks: { stepSize: P.minor, autoSkip: false, maxRotation: 0, minRotation: 0, padding: P.tickPad, color: P.tickColor,
                   font: { family: FONT, size: P.tickSize },
                   callback: (v) => P.ticks.includes(v) ? String(v) : '' },
          afterFit: (s) => { s.height = P.axisH; }
        },
        yi: { type: 'linear', display: false, min: ri.min, max: ri.max },
        yf: { type: 'linear', display: false, min: rf.min, max: rf.max }
      }
    },
    plugins: P.bars ? [barsPlugin(P.bars, P.canvas)] : []
  });
}

const IN_COLS = ['#111', '#4a4a4a', '#222', '#666', '#333'];
const FP_COLS = ['#111', '#666', '#888', '#333'];
const common = { padT: 5, axisH: 30, lw: 1, inColors: IN_COLS, fpColors: FP_COLS, axisColor: '#555', tickLen: 4, tickPad: 1, tickColor: '#111', tickSize: 16 };
const boxA = (l, r) => ({ l, r, t: 68, b: 345 });
const boxB = (l, r) => ({ l, r, t: 378, b: 671 });

makeChart(Object.assign({}, common, { canvas: 'cA1', box: boxA(55, 268), range: [ticksA12[0], ticksA12[3]], ticks: ticksA12, minor: 500,
  t: tA1, intr: [A1_in1, A1_in2, A1_in3, A1_in4, A1_in5], tf: tA1fp, fp: [A1_fp1, A1_fp2, A1_fp3], inBase: 178, inPPU: 8, fpBase: 259, fpPPU: 280 }));
makeChart(Object.assign({}, common, { canvas: 'cA2', box: boxA(353, 566), range: [ticksA12[0], ticksA12[3]], ticks: ticksA12, minor: 500,
  t: tA2, intr: [A2_in1, A2_in2, A2_in3, A2_in4, A2_in5], tf: tA2fp, fp: [A2_fp1, A2_fp2, A2_fp3, A2_fp4], inBase: 180, inPPU: 8, fpBase: 267, fpPPU: 280 }));
makeChart(Object.assign({}, common, { canvas: 'cA3', box: boxA(651, 863), range: [ticksA3[0], ticksA3[3]], ticks: ticksA3, minor: 500,
  t: tA3, intr: [A3_in1, A3_in2, A3_in3, A3_in4, A3_in5], tf: tA3fp, fp: [A3_fp1, A3_fp2, A3_fp3, A3_fp4], inBase: 177, inPPU: 8, fpBase: 266, fpPPU: 280,
  bars: [ { axis: 'yi', from: 5.6, to: 10.6, dx: -1, gap: 4, size: 16, lw: 1.3, upper: '5', lower: 'mV' },
          { axis: 'yf', from: -0.19, to: -0.09, dx: -1, gap: 4, size: 16, lw: 1.3, upper: '0.1', lower: 'mV' } ] }));
makeChart(Object.assign({}, common, { canvas: 'cB1', box: boxB(55, 268), range: [ticksB12[0], ticksB12[3]], ticks: ticksB12, minor: 250,
  t: tB1, intr: [B1_in1, B1_in2, B1_in3, B1_in4], tf: tB1fp, fp: [B1_fp1, B1_fp2, B1_fp3, B1_fp4], inBase: 468, inPPU: 1.75, fpBase: 626, fpPPU: 172 }));
makeChart(Object.assign({}, common, { canvas: 'cB2', box: boxB(352, 565), range: [ticksB12[0], ticksB12[3]], ticks: ticksB12, minor: 250,
  t: tB2, intr: [B2_in1, B2_in2, B2_in3, B2_in4, B2_in5], tf: tB2fp, fp: [B2_fp1, B2_fp2, B2_fp3, B2_fp4], inBase: 468, inPPU: 1.75, fpBase: 626, fpPPU: 172 }));
makeChart(Object.assign({}, common, { canvas: 'cB3', box: boxB(650, 863), range: [ticksB3[0], ticksB3[3]], ticks: ticksB3, minor: 250,
  t: tB3, intr: [B3_in1, B3_in2, B3_in3, B3_in4], tf: tB3fp, fp: [B3_fp1, B3_fp2, B3_fp3, B3_fp4], inBase: 468, inPPU: 1.75, fpBase: 626, fpPPU: 172,
  bars: [ { axis: 'yi', from: -12.6, to: 7.4, dx: -1, gap: 4, size: 16, lw: 1.3, upper: '20', lower: 'mV' },
          { axis: 'yf', from: 0.06, to: 0.26, dx: -1, gap: 4, size: 16, lw: 1.3, upper: '0.2', lower: 'mV' } ] }));
makeChart(Object.assign({}, common, { canvas: 'cInset', box: { l: 237, r: 322, t: 30, b: 148 }, padT: 30, axisH: 12,
  range: rangeInset, ticks: ticksInset, minor: 1, axisColor: '#999', tickLen: 2, tickPad: 0, tickColor: '#666', tickSize: 6,
  inColors: ['#999', '#888', '#333', '#666'], fpColors: ['#333', '#888', '#555'],
  t: tInsetIn, intr: [Inset_in1, Inset_in2, Inset_in3, Inset_in4], tf: tInsetFp, fp: [Inset_fp1, Inset_fp2, Inset_fp3],
  inBase: 67, inPPU: 2.6, fpBase: 97, fpPPU: 130,
  bars: [ { axis: 'yi', from: 16.9, to: 21.9, dx: -9, gap: 2, size: 8, lw: 1, upper: '5', lower: 'mV' },
          { axis: 'yf', from: -0.292, to: -0.192, dx: -8, gap: 2, size: 8, lw: 1, upper: '0.1', lower: 'mV' } ] }));
</script>
</body></html>
